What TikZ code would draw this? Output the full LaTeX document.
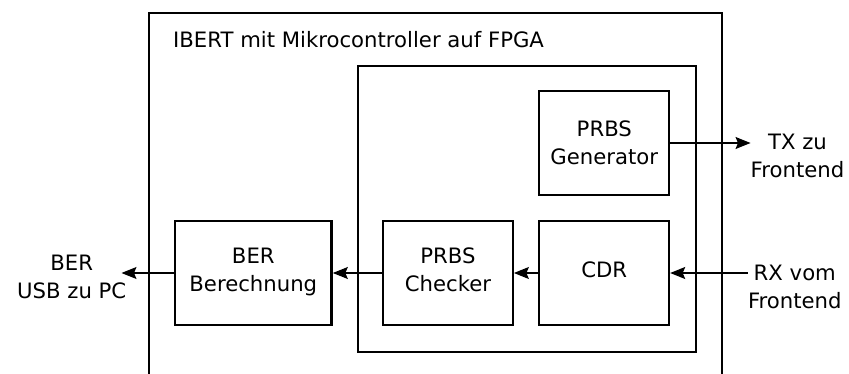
\documentclass[tikz,border=0pt]{standalone}
\usepackage{fontspec}
\setmainfont{DejaVu Sans}
\usetikzlibrary{arrows.meta}
\begin{document}
\begin{tikzpicture}[x=1pt, y=-1pt,
  every node/.style={font=\fontsize{21.2}{28}\selectfont},
  box/.style={draw, line width=1.8pt, minimum width=130pt, minimum height=104pt,
              inner sep=0pt, align=center},
  lowrow/.style={text depth=7pt},
  extlabel/.style={inner sep=0pt, align=center},
  link/.style={line width=1.1pt, -{Stealth[length=15pt,width=12pt,inset=2.5pt]}},
  frame/.style={line width=1.3pt}]
\useasboundingbox (0,0) rectangle (849,374);

% FPGA frame (open at the bottom edge)
\draw[frame] (149,380) -- (149,13) -- (722,13) -- (722,380);
\node[anchor=base west, inner sep=0pt] (title) at (173,48) {IBERT mit Mikrocontroller auf FPGA};

% transceiver block
\node[draw, line width=1.5pt, minimum width=338pt, minimum height=286pt, inner sep=0pt] (core) at (527,209) {};

% functional blocks
\node[box] (gen) at (604.3,143) {PRBS\\Generator};
\node[box, lowrow] (cdr) at (604.3,273) {CDR};
\node[box, lowrow] (chk) at (448,273) {PRBS\\Checker};
\node[box, lowrow, line width=2.4pt, minimum width=156.7pt] (ber) at (253.3,273) {BER\\Berechnung};

% external signals
\node[extlabel] (tx) at (797.5,155.5) {TX zu\\Frontend};
\node[extlabel] (rx) at (794.8,287) {RX vom\\Frontend};
\node[extlabel] (usb) at (71.7,276.5) {BER\\USB zu PC};
\coordinate (berout) at (121.5,273);

% data path
\draw[link] (gen.east) -- (tx.west |- gen.east);
\draw[link] (rx.west |- cdr.east) -- (cdr.east);
\draw[link] (cdr.west) -- (chk.east);
\draw[link] (chk.west) -- (ber.east);
\draw[link] (ber.west) -- (berout);
\end{tikzpicture}
\end{document}
